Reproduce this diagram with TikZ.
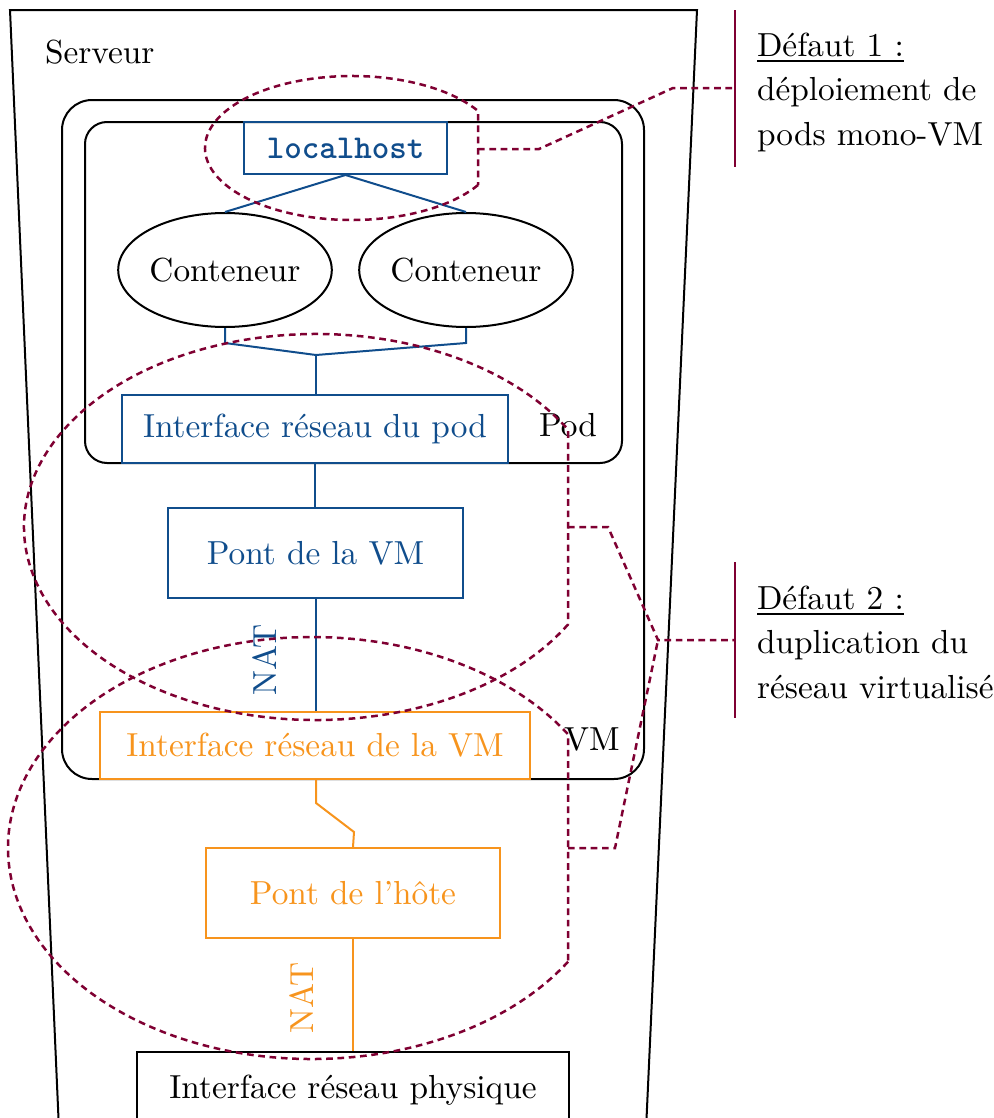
\documentclass[tikz,border=0pt]{standalone}
\usepackage{fontspec}
\usetikzlibrary{shapes.geometric,calc}
\definecolor{cblue}{RGB}{16,77,140}
\definecolor{corange}{RGB}{247,148,29}
\definecolor{cpurple}{RGB}{127,0,50}
\begin{document}
\begin{tikzpicture}[x=0.3pt,y=-0.3pt,line width=0.6pt,
  bluebox/.style={draw=cblue,text=cblue,rectangle,inner sep=0pt},
  orbox/.style={draw=corange,text=corange,rectangle,inner sep=0pt},
  blackbox/.style={draw=black,rectangle,inner sep=0pt},
  cont/.style={draw,ellipse,inner sep=0pt,minimum width=61.2pt,minimum height=34.2pt},
  blueline/.style={draw=cblue},
  orline/.style={draw=corange},
  defect/.style={draw=cpurple,line width=0.75pt,dash pattern=on 2pt off 1.4pt},
  bracket/.style={draw=cpurple,line width=0.75pt},
  lbl/.style={inner sep=0pt,anchor=base west}]
\useasboundingbox (0,0) rectangle (993,1118);
% server
\draw (59,1130) -- (10,10) -- (697,10) -- (646,1130);
\node[lbl] (serveur) at (44,63) {Serveur};
% VM and pod frames
\draw[rounded corners=9pt] (62,100) rectangle (644,779);
\draw[rounded corners=6.6pt] (85,122) rectangle (622,463);
\node[lbl] (podlbl) at (538,436) {Pod};
\node[lbl] (vmlbl) at (563,750) {VM};
% nodes
\node[bluebox,minimum width=60.9pt,minimum height=15.6pt,font=\ttfamily\bfseries] (lh) at (345.5,148) {localhost};
\node[cont] (c1) at (225,270) {Conteneur};
\node[cont] (c2) at (466,270) {Conteneur};
\node[bluebox,minimum width=115.8pt,minimum height=20.4pt] (podif) at (315,429) {Interface réseau du pod};
\node[bluebox,minimum width=88.5pt,minimum height=27pt] (pontvm) at (315.5,553) {Pont de la VM};
\node[orbox,minimum width=129pt,minimum height=20.1pt] (vmif) at (315,745.5) {Interface réseau de la VM};
\node[orbox,minimum width=88.2pt,minimum height=27pt] (ponthote) at (353,893) {Pont de l’hôte};
\node[blackbox,minimum width=129.6pt,minimum height=22.8pt] (phys) at (353,1090) {Interface réseau physique};
% connectors
\draw[blueline] (c1.north) -- (lh.south) -- (c2.north);
\coordinate (j1) at (316,355);
\draw[blueline] (c1.south) -- ($(c1.south)+(0,15)$) -- (j1) -- ($(c2.south)+(0,15)$) -- (c2.south);
\draw[blueline] (j1) -- (j1 |- podif.north);
\draw[blueline] (podif.south) -- (podif.south |- pontvm.north);
\draw[blueline] (pontvm.south) -- (pontvm.south |- vmif.north);
\node[text=cblue,rotate=90,inner sep=0pt] (nat1) at (265,660) {NAT};
\draw[orline] (316,779) -- (316,803) -- (354,832) -- (ponthote.north);
\draw[orline] (ponthote.south) -- (phys.north);
\node[text=corange,rotate=90,inner sep=0pt] (nat2) at (302,998) {NAT};
% defect outlines
\draw[defect] ([shift={(31:147 and 72)}]352,148) arc[start angle=31,end angle=329,x radius=147,y radius=72] -- cycle;
\draw[defect] ([shift={(30.3:292 and 193)}]316,527) arc[start angle=30.3,end angle=329.7,x radius=292,y radius=193] -- cycle;
\draw[defect] ([shift={(32.6:304 and 211)}]312,848) arc[start angle=32.6,end angle=327.4,x radius=304,y radius=211] -- cycle;
% callout 1
\coordinate (d1a) at (478,149);
\coordinate (d1b) at (539,149);
\coordinate (d1c) at (673,88);
\coordinate (d1d) at (735,88);
\draw[defect] (d1a) -- (d1b) -- (d1c) -- (d1d);
\draw[bracket] (735,10) -- (735,167);
\node[lbl] (t1a) at (756,56) {\underline{Défaut 1 :}};
\node[lbl] (t1b) at (756,100.5) {déploiement de};
\node[lbl] (t1c) at (756,145) {pods mono-VM};
% callout 2
\coordinate (d2a) at (568,527);
\coordinate (d2b) at (608,527);
\coordinate (d2c) at (658,640);
\coordinate (d2d) at (735,640);
\coordinate (d2e) at (568,848);
\coordinate (d2f) at (615,848);
\draw[defect] (d2a) -- (d2b) -- (d2c) -- (d2d);
\draw[defect] (d2e) -- (d2f) -- (d2c);
\draw[bracket] (735,562) -- (735,718);
\node[lbl] (t2a) at (756,609) {\underline{Défaut 2 :}};
\node[lbl] (t2b) at (756,653.5) {duplication du};
\node[lbl] (t2c) at (756,698) {réseau virtualisé};
\end{tikzpicture}
\end{document}
